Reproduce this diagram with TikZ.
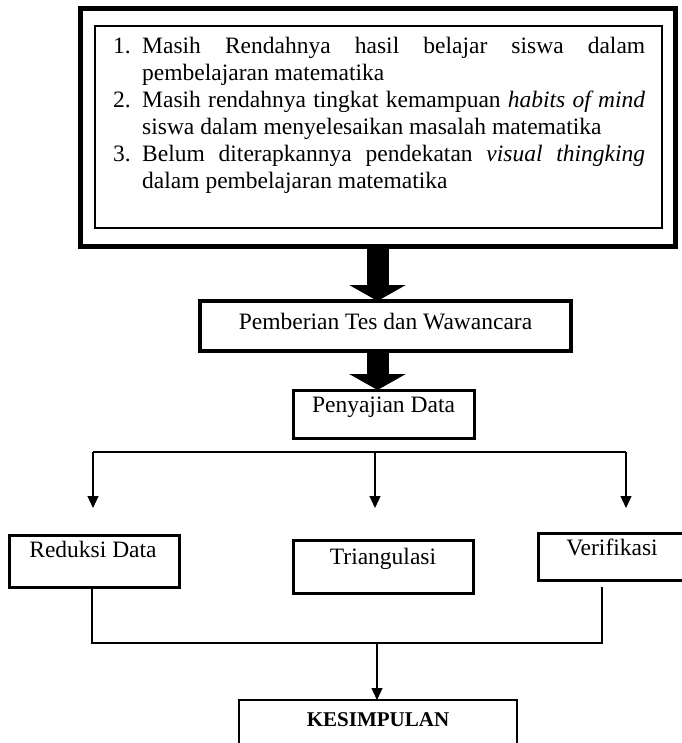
\documentclass[tikz,border=0pt]{standalone}
\usepackage{fontspec}
\setmainfont{Liberation Serif}
\usetikzlibrary{arrows.meta}
\begin{document}
\begin{tikzpicture}[x=1pt,y=-1pt,
  box/.style={draw, inner sep=0pt, outer sep=0pt},
  txt/.style={inner sep=0pt, font=\fontsize{23.5}{27}\selectfont},
  blk/.style={line width=22pt, -{Triangle[width=56pt,length=16pt]}},
  con/.style={line width=1.2pt},
  arr/.style={con, -{Triangle[width=11pt,length=12pt]}}]
\useasboundingbox (0,0) rectangle (681,743);
% top frame
\node[box, line width=5pt, minimum width=595pt, minimum height=237pt] (outer) at (377.5,127.5) {};
\node[box, line width=1.5pt, minimum width=567pt, minimum height=202pt] (inner) at (378.5,127) {};
\node[txt, anchor=base west] (n1) at (113,54) {1.};
\node[txt, anchor=base west] (l1) at (142,54) {\makebox[503pt][s]{Masih Rendahnya hasil belajar siswa dalam}};
\node[txt, anchor=base west] (l2) at (142,81) {pembelajaran matematika};
\node[txt, anchor=base west] (n2) at (113,108) {2.};
\node[txt, anchor=base west] (l3) at (142,108) {\makebox[503pt][s]{Masih rendahnya tingkat kemampuan \textit{habits of mind}}};
\node[txt, anchor=base west] (l4) at (142,135) {siswa dalam menyelesaikan masalah matematika};
\node[txt, anchor=base west] (n3) at (113,162) {3.};
\node[txt, anchor=base west] (l5) at (142,162) {\makebox[503pt][s]{Belum diterapkannya pendekatan \textit{visual thingking}}};
\node[txt, anchor=base west] (l6) at (142,189) {dalam pembelajaran matematika};
% middle boxes
\node[box, line width=4.5pt, minimum width=371pt, minimum height=50pt] (pemb) at (385.5,326) {};
\node[txt, anchor=base] (tpemb) at (385.5,329) {Pemberian Tes dan Wawancara};
\node[box, line width=3pt, minimum width=181pt, minimum height=48pt] (peny) at (383.5,414) {};
\node[txt, anchor=base] (tpeny) at (383.5,412) {Penyajian Data};
\draw[blk] (outer.south) -- (outer.south |- pemb.north);
\draw[blk] (pemb.south -| outer.south) -- (outer.south |- peny.north);
% distribution
\coordinate (sl) at (93,452);
\coordinate (sm) at (375,452);
\coordinate (sr) at (626,452);
\draw[con] (sl) -- (sr);
\draw[arr] (sl) -- ++(0,56);
\draw[arr] (sm) -- ++(0,56);
\draw[arr] (sr) -- ++(0,56);
% three boxes
\node[box, line width=3pt, minimum width=170pt, minimum height=52pt] (red) at (94,561) {};
\node[txt, anchor=base] (tred) at (93,557) {Reduksi Data};
\node[box, line width=3pt, minimum width=180pt, minimum height=53pt] (tri) at (383,566.5) {};
\node[txt, anchor=base] (ttri) at (383,564) {Triangulasi};
\node[box, line width=3pt, minimum width=146pt, minimum height=47pt] (ver) at (611,556.5) {};
\node[txt, anchor=base] (tver) at (612,555) {Verifikasi};
% join
\coordinate (jl) at (92,643);
\coordinate (jr) at (602,643);
\coordinate (jm) at (377,643);
\coordinate (vs) at (602,587);
\node[box, line width=1.5pt, minimum width=278pt, minimum height=60pt] (kes) at (378,730) {};
\node[inner sep=0pt, anchor=base, font=\fontsize{21}{25}\selectfont\bfseries] (tkes) at (378,726) {KESIMPULAN};
\draw[con] (red.south -| jl) -- (jl) -- (jr) -- (vs);
\draw[arr] (jm) -- (jm |- kes.north);
\end{tikzpicture}
\end{document}
